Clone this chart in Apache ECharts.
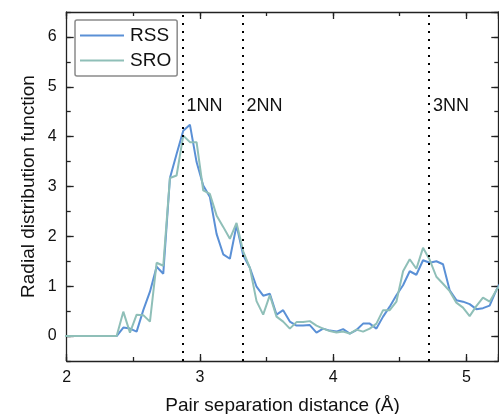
<!DOCTYPE html>
<html>
<head>
<meta charset="utf-8">
<script src="https://cdn.jsdelivr.net/npm/echarts@6/dist/echarts.min.js"></script>
<style>html,body{margin:0;padding:0;background:#fff;}#c{width:499px;height:414px;}</style>
</head>
<body>
<div id="c"></div>
<script>
// Pair separation distance (Å), bin centres
const distances = [1.975, 2.025, 2.075, 2.125, 2.175, 2.225, 2.275, 2.325, 2.375,
  2.425, 2.475, 2.525, 2.575, 2.625, 2.675, 2.725, 2.775, 2.825, 2.875,
  2.925, 2.975, 3.025, 3.075, 3.125, 3.175, 3.225, 3.275, 3.325, 3.375,
  3.425, 3.475, 3.525, 3.575, 3.625, 3.675, 3.725, 3.775, 3.825, 3.875,
  3.925, 3.975, 4.025, 4.075, 4.125, 4.175, 4.225, 4.275, 4.325, 4.375,
  4.425, 4.475, 4.525, 4.575, 4.625, 4.675, 4.725, 4.775, 4.825, 4.875,
  4.925, 4.975, 5.025, 5.075, 5.125, 5.175, 5.225, 5.275];
const rss = [0, 0, 0, 0, 0, 0, 0, 0, 0,
  0.17, 0.15, 0.09, 0.52, 0.89, 1.39, 1.25, 3.17, 3.65, 4.12,
  4.24, 3.49, 3.02, 2.79, 2.05, 1.64, 1.55, 2.22, 1.62, 1.37,
  0.99, 0.81, 0.85, 0.43, 0.52, 0.29, 0.21, 0.21, 0.22, 0.07,
  0.15, 0.11, 0.09, 0.14, 0.05, 0.12, 0.25, 0.25, 0.15, 0.39,
  0.59, 0.82, 1.02, 1.30, 1.23, 1.52, 1.47, 1.50, 1.44, 0.92,
  0.72, 0.69, 0.64, 0.54, 0.56, 0.61, 0.92, 1.15];
const sro = [0, 0, 0, 0, 0, 0, 0, 0, 0,
  0.49, 0.07, 0.43, 0.42, 0.29, 1.47, 1.41, 3.17, 3.22, 4.02,
  3.89, 3.89, 2.92, 2.85, 2.42, 2.19, 1.95, 2.27, 1.70, 1.37,
  0.70, 0.43, 0.82, 0.39, 0.29, 0.15, 0.28, 0.28, 0.30, 0.21,
  0.15, 0.10, 0.07, 0.09, 0.05, 0.13, 0.09, 0.15, 0.25, 0.52,
  0.52, 0.69, 1.30, 1.54, 1.35, 1.77, 1.53, 1.19, 1.05, 0.90,
  0.67, 0.57, 0.40, 0.60, 0.77, 0.69, 0.92, 1.10];
const nnPositions = [2.87, 3.32, 4.72];
const nnLabels = ['1NN', '2NN', '3NN'];
const nnLabelLevel = 4.62;
const xLabelValues = [2, 3, 4, 5];

const FONT = '"Liberation Sans", Arial, sans-serif';
const AX = '#222';
const chart = echarts.init(document.getElementById('c'));

function longTick() { return { show: true, inside: true, length: 7, lineStyle: { color: AX, width: 1.3 } }; }
function noLine() { return { show: false, onZero: false }; }

function xAx(opts) {
  return Object.assign({
    type: 'value', gridIndex: 0, min: 2, max: 5.24, interval: 0.5,
    axisLine: { show: true, onZero: false, lineStyle: { color: AX, width: 1.3 } },
    axisTick: { show: true, inside: true, length: 4, lineStyle: { color: AX, width: 1.3 } },
    axisLabel: { show: false },
    splitLine: { show: false }
  }, opts);
}
function yAx(opts) {
  return Object.assign({
    type: 'value', gridIndex: 0, min: -0.5, max: 6.5, interval: 0.5,
    axisLine: { show: true, onZero: false, lineStyle: { color: AX, width: 1.3 } },
    axisTick: { show: true, inside: true, length: 4, lineStyle: { color: AX, width: 1.3 } },
    axisLabel: { show: false },
    splitLine: { show: false }
  }, opts);
}

const pairs = (ys) => distances.map((d, i) => [d, ys[i]]);

chart.setOption({
  animation: false,
  backgroundColor: '#fff',
  textStyle: { fontFamily: FONT },
  grid: [
    { left: 66.7, right: 0.7, top: 12, bottom: 53, containLabel: false, outerBoundsMode: 'none' },
    { left: 66.7, right: 0.7, top: 12, bottom: 78, containLabel: false, outerBoundsMode: 'none' }
  ],
  legend: {
    show: true, orient: 'vertical', left: 75, top: 20,
    data: ['RSS', 'SRO'],
    icon: 'rect',
    backgroundColor: '#fff',
    borderColor: '#8a8a8a', borderWidth: 1.5, borderRadius: 2,
    padding: [6, 6, 6, 5], itemGap: 6, itemWidth: 44, itemHeight: 2,
    textStyle: { fontSize: 19, lineHeight: 18, color: '#111', fontFamily: FONT, padding: [0, 0, 0, 1] }
  },
  xAxis: [
    xAx({ position: 'bottom',
      name: 'Pair separation distance (Å)', nameLocation: 'middle', nameGap: 35,
      nameTextStyle: { fontSize: 19, color: '#111', fontFamily: FONT } }),
    xAx({ position: 'top' }),
    xAx({ position: 'bottom', interval: 1, axisLine: noLine(), axisTick: longTick(),
      axisLabel: { show: true, fontSize: 16, color: '#111', margin: 9, fontFamily: FONT,
        formatter: (v) => xLabelValues.indexOf(v) >= 0 ? String(v) : '' } }),
    xAx({ position: 'top', interval: 1, axisLine: noLine(), axisTick: longTick() }),
    xAx({ gridIndex: 1, show: false })
  ],
  yAxis: [
    yAx({ position: 'left',
      name: 'Radial distribution function', nameLocation: 'middle', nameGap: 28,
      nameTextStyle: { fontSize: 19, color: '#111', fontFamily: FONT } }),
    yAx({ position: 'right' }),
    yAx({ gridIndex: 1, position: 'left', min: 0, max: 6.5, interval: 1,
      axisLine: noLine(), axisTick: longTick(),
      axisLabel: { show: true, fontSize: 16, color: '#111', margin: 10, fontFamily: FONT,
        showMaxLabel: false } }),
    yAx({ gridIndex: 1, position: 'right', min: 0, max: 6.5, interval: 1,
      axisLine: noLine(), axisTick: longTick() })
  ],
  series: [
    {
      name: 'NN', type: 'line', xAxisIndex: 0, yAxisIndex: 0, data: [], silent: true,
      markLine: {
        silent: true, symbol: ['none', 'none'], animation: false,
        lineStyle: { color: '#000', type: [2, 6], width: 2, cap: 'butt' },
        label: { show: false },
        data: nnPositions.map((p) => ({ xAxis: p }))
      },
      markPoint: {
        silent: true, symbol: 'circle', symbolSize: 0,
        label: { show: true, position: 'right', distance: 4, color: '#111', fontSize: 18,
          fontFamily: FONT, formatter: (p) => p.name },
        data: nnPositions.map((p, i) => ({ name: nnLabels[i], coord: [p, nnLabelLevel] }))
      }
    },
    {
      name: 'SRO', type: 'line', xAxisIndex: 0, yAxisIndex: 0, data: pairs(sro),
      symbol: 'none', clip: true, z: 3,
      lineStyle: { color: '#8fbfb8', width: 2 }, itemStyle: { color: '#8fbfb8' }
    },
    {
      name: 'RSS', type: 'line', xAxisIndex: 0, yAxisIndex: 0, data: pairs(rss),
      symbol: 'none', clip: true, z: 2,
      lineStyle: { color: '#5a90d6', width: 2 }, itemStyle: { color: '#5a90d6' }
    }
  ]
});
</script>
</body>
</html>
